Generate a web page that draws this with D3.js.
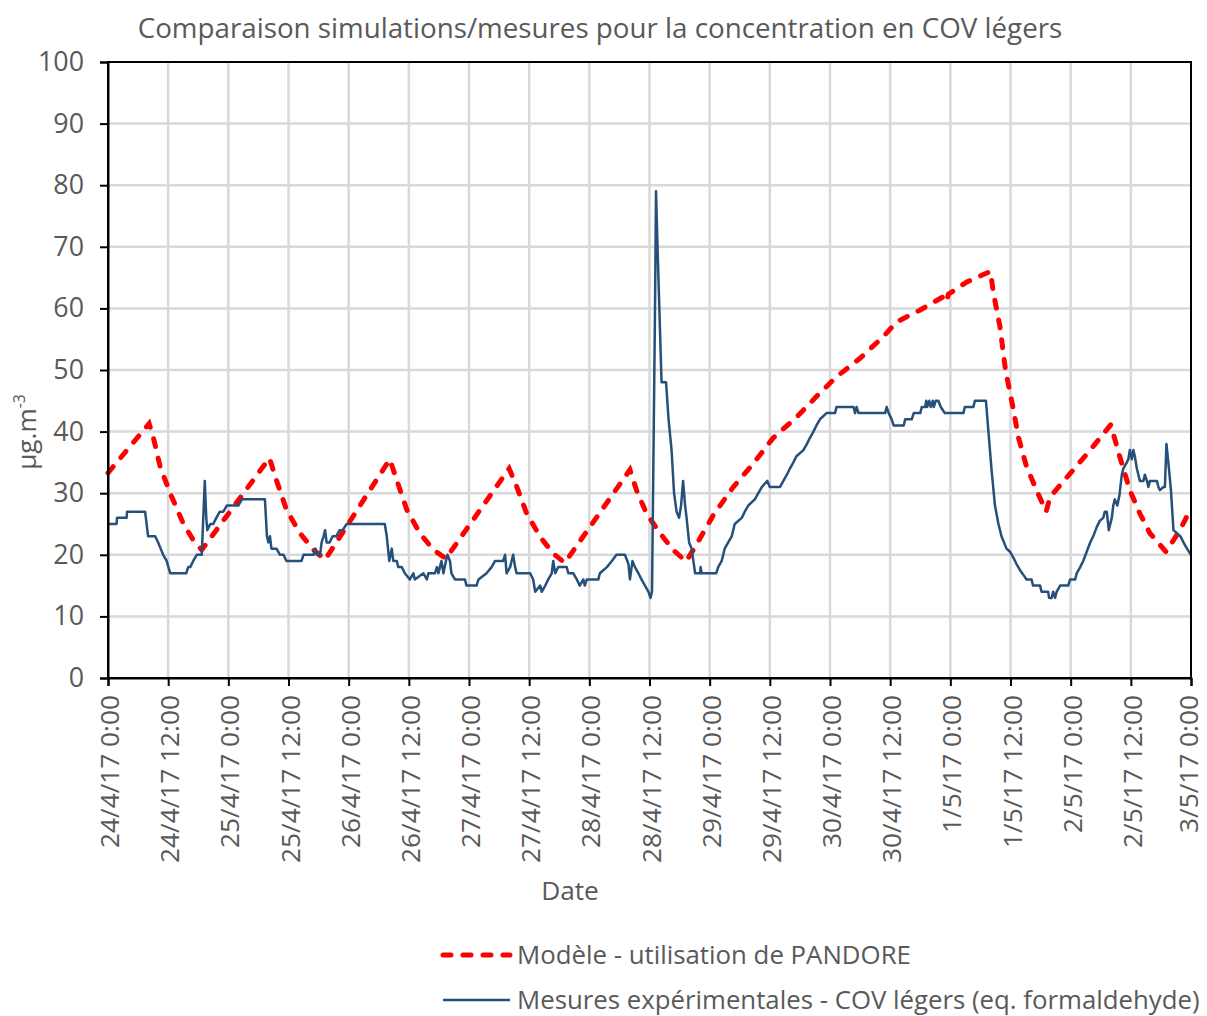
<!DOCTYPE html>
<html>
<head>
<meta charset="utf-8">
<script src="https://cdn.jsdelivr.net/npm/d3@7"></script>
<style>
  body { margin: 0; background: #ffffff; }
  svg text { font-family: "Open Sans", "Liberation Sans", sans-serif; fill: #595959; }
</style>
</head>
<body>
<svg id="chart" width="1207" height="1016"></svg>
<script>
// Time is given in hours after 24/4/17 0:00; concentrations in µg.m-3.

// Simulated concentration (PANDORE model)
const modelSeries = [
  [0,33.3],[8.2,41.3],[9.0,39.2],[10.4,34.3],[12.4,30.0],[15.0,25.1],[17.0,22.4],[18.7,20.8],
  [32.2,35.7],[33.6,32.1],[35.6,27.3],[38.3,23.5],[41.0,20.8],[43.3,19.2],
  [56.2,35.5],[57.6,32.1],[59.6,27.3],[62.2,23.5],[64.9,20.8],[67.4,19.4],
  [80.0,34.0],[81.5,31.1],[83.5,26.7],[86.2,22.9],[88.8,20.2],[91.1,18.7],
  [104.1,33.8],[105.4,30.5],[107.4,26.7],[110.1,23.5],[112.7,20.8],[115.3,18.9],
  [117.1,21.3],[120.7,26.4],[124.7,31.0],[128.7,34.8],[132.7,39.0],[137.4,42.4],[141.9,46.2],
  [145.3,48.9],[150.0,51.9],[154.6,55.4],[157.3,57.8],[161.9,59.7],[166.6,61.9],[167.3,61.1],
  [167.6,62.3],[171.3,64.3],[176.0,66.0],
  [176.6,62.5],[177.9,57.0],[179.0,50.0],[180.4,44.3],[181.6,39.0],[183.2,34.3],[185.2,30.5],[187.1,27.0],
  [187.9,29.4],[191.9,33.2],[195.9,37.0],[200.0,41.1],
  [201.8,35.9],[203.8,30.5],[205.8,26.7],[207.8,23.5],[211.0,20.5],
  [213.8,24.0],[216.0,27.6]
];

// Measured light VOC (formaldehyde equivalent)
const measuredSeries = [
  [0,25],[1.7,25],[1.8,26],[3.7,26],[3.8,27],[7.4,27],[8.0,23],[9.4,23],[10.0,22],[10.5,21],[11.0,20],
  [11.7,19],[12.4,17],[15.6,17],[16.0,18],[16.4,18],[17.0,19],[17.7,20],[18.7,20],[19.3,32],[19.6,26],
  [19.8,24],[20.4,25],[21.0,25],[21.6,26],[22.3,27],[23.0,27],[23.7,28],[26.0,28],[26.7,29],[31.3,29],
  [31.7,23],[32.0,22],[32.3,23],[32.6,21],[33.6,21],[34.3,20],[35.0,20],[35.6,19],[38.6,19],[39.0,20],
  [41.0,20],[41.4,21],[41.7,20],[42.3,20],[42.6,22],[43.0,23],[43.3,24],[43.6,22],[44.2,22],[44.8,23],
  [45.5,23],[46.2,24],[46.8,24],[47.6,25],[55.2,25],[55.6,23],[56.1,19],[56.6,21],[56.9,19],[57.6,19],
  [57.9,18],[58.6,18],[59.2,17],[60.2,16],[60.9,17],[61.2,16],[62.9,17],[63.6,16],[63.9,17],[65.2,17],
  [65.6,18],[65.9,17],[66.2,18],[66.5,19],[66.9,17],[67.4,19],[67.7,20],[68.2,19],[68.5,17],[69.2,16],
  [71.2,16],[71.5,15],[73.5,15],[73.9,16],[75.5,17],[76.5,18],[77.2,19],[78.8,19],[79.2,20],[79.5,17],
  [80.2,18],[80.8,20],[81.2,18],[81.5,17],[84.2,17],[84.8,16],[85.2,14],[86.2,15],[86.5,14],[87.2,15],
  [87.8,16],[88.5,17],[88.8,19],[89.2,17],[89.8,18],[91.5,18],[91.8,17],[92.8,17],[93.5,16],[94.1,15],
  [94.8,16],[95.1,15],[95.5,16],[97.8,16],[98.1,17],[99.5,18],[100.5,19],[101.4,20],[103.1,20],[103.8,18.5],
  [104.1,16],[104.6,19],[105.1,18],[105.8,17],[106.4,16],[107.1,15],[107.8,14],[108.2,13],[108.5,14],
  [109.1,60],[109.3,79],[109.6,70],[110.4,48],[111.3,48],[111.8,42],[112.4,37],[112.9,30],[113.4,27],
  [113.9,26],[114.3,28],[114.7,32],[115.1,28],[115.4,26],[115.9,22],[116.4,21],[117.1,17],[118.1,17],
  [118.2,18],[118.4,17],[121.3,17],[121.7,18],[122.4,19],[123.0,21],[123.7,22],[124.4,23],[125.0,25],
  [126.4,26],[127.0,27],[127.7,28],[129.0,29],[129.7,30],[130.4,31],[131.5,32],[132.0,31],[134.0,31],
  [134.7,32],[135.4,33],[136.0,34],[136.7,35],[137.3,36],[138.7,37],[139.4,38],[140.0,39],[140.7,40],
  [141.3,41],[142.0,42],[143.3,43],[145.0,43],[145.3,44],[148.7,44],[149.0,43],[149.3,44],[149.7,43],
  [155.0,43],[155.3,44],[155.7,43],[156.3,42],[156.7,41],[158.7,41],[159.0,42],[160.3,42],[160.7,43],
  [162.0,43],[162.3,44],[163.0,44],[163.2,45],[163.4,44],[163.8,45],[164.1,44],[164.5,45],[164.7,44],
  [165.1,45],[165.6,45],[166.1,44],[166.9,43],[170.6,43],[170.9,44],[172.6,44],[172.9,45],[175.1,45],
  [175.6,40],[176.2,34],[176.9,28],[177.6,25],[178.2,23],[179.2,21],[179.9,20.5],[180.6,19.5],[181.2,18.5],
  [181.9,17.5],[182.6,16.7],[183.2,16],[184.2,16],[184.5,15],[185.9,15],[186.2,14],[187.5,14],[187.7,13],
  [188.2,13],[188.5,14],[188.9,13],[189.2,14],[189.9,15],[191.5,15],[191.9,16],[192.9,16],[193.2,17],
  [193.9,18],[194.5,19],[195.2,20.5],[195.9,22],[196.5,23],[197.2,24.5],[197.8,25.5],[198.5,26],[198.8,27],
  [199.2,27],[199.6,24],[200.2,26],[200.5,28],[200.8,29],[201.3,28],[201.7,29.5],[202.2,33],[202.5,34],
  [203.2,35],[203.5,35.5],[203.8,37],[204.2,35.5],[204.5,37],[204.8,36],[205.2,34],[205.8,32],[206.5,32],
  [206.8,33],[207.2,32],[207.5,31],[207.8,32],[209.2,32],[209.5,31],[209.8,30.5],[210.5,31],[210.8,31],
  [211.1,38],[211.6,34],[212.0,30.5],[212.5,24],[213.2,23.5],[213.9,23],[214.5,22],[215.2,21],[216.0,20]
];

const yTicks = [0, 10, 20, 30, 40, 50, 60, 70, 80, 90, 100];
const seriesNames = ["Modèle - utilisation de PANDORE",
                     "Mesures expérimentales - COV légers (eq. formaldehyde)"];
const chartTitle = "Comparaison simulations/mesures pour la concentration en COV légers";
const xTitle = "Date";

const startDate = new Date(2017, 3, 24, 0, 0);
const endDate = new Date(2017, 4, 3, 0, 0);
const toDate = h => new Date(startDate.getTime() + h * 3600 * 1000);

const W = 1207;
const svg = d3.select("#chart");
const plot = { left: 108, right: 1191, top: 62, bottom: 678 };

const x = d3.scaleTime().domain([startDate, endDate]).range([plot.left, plot.right]);
const y = d3.scaleLinear().domain([0, 100]).range([plot.bottom, plot.top]);
const xTicks = d3.timeHour.every(12).range(startDate, new Date(endDate.getTime() + 1));
const fmt = d3.timeFormat("%-d/%-m/%y %-H:%M");

// Fit a text element's font size so it spans the wanted width
function fitWidth(sel, width) {
  const w = sel.node().getComputedTextLength();
  const fs = parseFloat(sel.style("font-size"));
  const size = fs * width / w;
  sel.style("font-size", size + "px");
  return size;
}

// Grid
const grid = svg.append("g");
grid.selectAll("line.h").data(yTicks.slice(1, -1)).join("line")
  .attr("x1", plot.left).attr("x2", plot.right)
  .attr("y1", d => y(d)).attr("y2", d => y(d))
  .attr("stroke", "#d9d9d9").attr("stroke-width", 2.5);
grid.selectAll("line.v").data(xTicks.slice(1, -1)).join("line")
  .attr("x1", d => x(d)).attr("x2", d => x(d))
  .attr("y1", plot.top).attr("y2", plot.bottom)
  .attr("stroke", "#d9d9d9").attr("stroke-width", 2.5);

// Series
const line = d3.line().x(d => x(toDate(d[0]))).y(d => y(d[1]));
svg.append("path").datum(modelSeries)
  .attr("d", line).attr("fill", "none")
  .attr("stroke", "#ff0000").attr("stroke-width", 5)
  .attr("stroke-linecap", "round").attr("stroke-dasharray", "8,12");
svg.append("path").datum(measuredSeries)
  .attr("d", line).attr("fill", "none")
  .attr("stroke", "#24507a").attr("stroke-width", 2.5)
  .attr("stroke-linejoin", "round");

// Frame
svg.append("rect")
  .attr("x", plot.left).attr("y", plot.top)
  .attr("width", plot.right - plot.left).attr("height", plot.bottom - plot.top)
  .attr("fill", "none").attr("stroke", "#000").attr("stroke-width", 2);

// Y axis
const yAxis = svg.append("g")
  .attr("transform", `translate(${plot.left},0)`)
  .call(d3.axisLeft(y).tickValues(yTicks).tickSize(8).tickPadding(16));
yAxis.select(".domain").attr("stroke", "#000").attr("stroke-width", 2);
yAxis.selectAll(".tick line").attr("stroke", "#000").attr("stroke-width", 2);
yAxis.selectAll(".tick text").attr("fill", "#595959").style("font-size", "26px");
const yLabelSize = fitWidth(yAxis.selectAll(".tick text").filter(d => d === 100), 46);
yAxis.selectAll(".tick text").style("font-size", yLabelSize + "px");

// X axis
const xAxis = svg.append("g")
  .attr("transform", `translate(0,${plot.bottom})`)
  .call(d3.axisBottom(x).tickValues(xTicks).tickFormat(fmt).tickSize(8));
xAxis.select(".domain").attr("stroke", "#000").attr("stroke-width", 2);
xAxis.selectAll(".tick line").attr("stroke", "#000").attr("stroke-width", 2);
xAxis.selectAll(".tick text")
  .attr("fill", "#595959")
  .attr("transform", "rotate(-90)")
  .attr("text-anchor", "end")
  .attr("x", -17).attr("y", 0).attr("dy", "0.4em")
  .style("font-size", "26px");
const xLabelSize = fitWidth(xAxis.selectAll(".tick text").filter((d, i) => i === 0), 153);
xAxis.selectAll(".tick text").style("font-size", xLabelSize + "px");
svg.selectAll("g").attr("font-family", null).attr("font-size", null);

// Keep rotated date labels inside the canvas (text y maps to screen x after rotate(-90))
xAxis.selectAll(".tick text").each(function () {
  const r = this.getBoundingClientRect();
  if (r.right > W - 1) {
    const shift = r.right - (W - 1);
    d3.select(this).attr("y", -shift);
  }
});

// Titles
const title = svg.append("text")
  .attr("x", 600).attr("y", 38).attr("text-anchor", "middle")
  .style("font-size", "26px").text(chartTitle);
fitWidth(title, 925);

svg.append("text")
  .attr("x", 570).attr("y", 900).attr("text-anchor", "middle")
  .style("font-size", xLabelSize + "px").text(xTitle);

const yt = svg.append("text")
  .attr("transform", "translate(36,432) rotate(-90)")
  .attr("text-anchor", "middle")
  .style("font-size", xLabelSize + "px");
yt.append("tspan").text("µg.m");
yt.append("tspan").attr("baseline-shift", "super").style("font-size", (xLabelSize * 0.6) + "px").text("-3");

// Legend
const legend = svg.append("g");
const legendRows = [
  { name: seriesNames[0], color: "#ff0000", width: 5, dash: "8,12", cy: 955, textWidth: 394 },
  { name: seriesNames[1], color: "#24507a", width: 2.5, dash: null, cy: 1000, textWidth: 683 }
];
legendRows.forEach(r => {
  legend.append("line")
    .attr("x1", 443).attr("x2", 510).attr("y1", r.cy).attr("y2", r.cy)
    .attr("stroke", r.color).attr("stroke-width", r.width)
    .attr("stroke-linecap", r.dash ? "round" : "butt")
    .attr("stroke-dasharray", r.dash);
  const t = legend.append("text")
    .attr("x", 517).attr("y", r.cy).attr("dy", "0.35em")
    .style("font-size", "26px").text(r.name);
  fitWidth(t, r.textWidth);
});
</script>
</body>
</html>
